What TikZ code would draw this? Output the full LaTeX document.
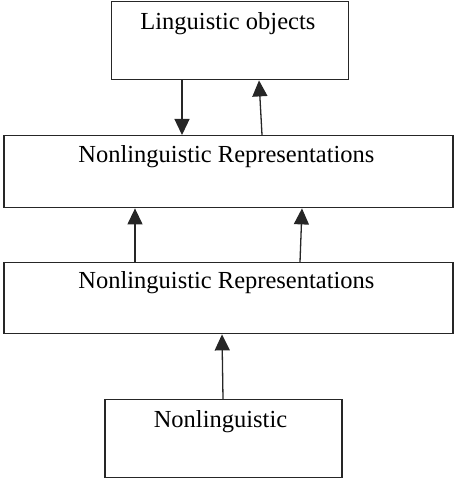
\documentclass[tikz,border=0pt]{standalone}
\usepackage{fontspec}
\setmainfont{Liberation Serif}
\usetikzlibrary{arrows.meta,calc}
\begin{document}
\begin{tikzpicture}[x=1pt,y=-1pt,
  boxshape/.style={draw=black!85,line width=1.4pt,rectangle,inner sep=0pt},
  lbl/.style={anchor=base,inner sep=0pt,font=\fontsize{24.5}{29}\selectfont},
  arr/.style={draw=black!85,line width=1.3pt,-{Triangle[width=15pt,length=16pt]}}]
\useasboundingbox (0,0) rectangle (453,478);
% boxes
\node[boxshape,minimum width=237pt,minimum height=78pt,anchor=north west] (b1) at (110.7,1) {};
\node[boxshape,minimum width=449pt,minimum height=72pt,anchor=north west] (b2) at (3.2,135) {};
\node[boxshape,minimum width=449pt,minimum height=71pt,anchor=north west] (b3) at (3.2,262) {};
\node[boxshape,minimum width=237pt,minimum height=78pt,anchor=north west] (b4) at (104.3,399) {};
% texts
\node[lbl] (t1) at ($(b1.north)+(-2,29)$) {Linguistic objects};
\node[lbl] (t2) at ($(b2.north)+(-2,28)$) {Nonlinguistic Representations};
\node[lbl] (t3) at ($(b3.north)+(-2,26)$) {Nonlinguistic Representations};
\node[lbl] (t4) at ($(b4.north)+(-3,28)$) {Nonlinguistic};
% arrows
\draw[arr] (b1.south -| 182,0) -- (b2.north -| 182,0);
\draw[arr] (b2.north -| 262,0) -- (b1.south -| 259,0);
\draw[arr] (b3.north -| 135,0) -- (b2.south -| 135,0);
\draw[arr] (b3.north -| 300,0) -- (b2.south -| 302,0);
\draw[arr] (b4.north -| 223,0) -- (b3.south -| 222,0);
\end{tikzpicture}
\end{document}
